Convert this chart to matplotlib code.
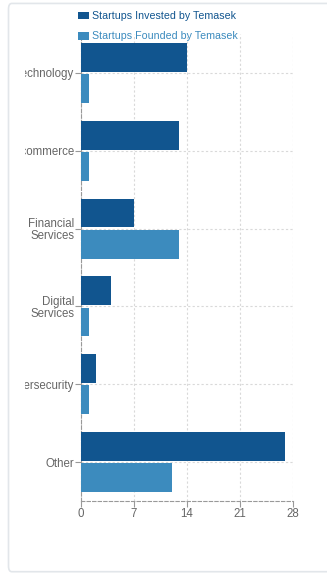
import numpy as np
import matplotlib.pyplot as plt
from matplotlib.patches import FancyBboxPatch
from matplotlib.transforms import Bbox, TransformedBbox

plt.rcParams['font.family'] = ['Liberation Sans', 'DejaVu Sans']

categories = ["Technology", "E-commerce", "Financial\nServices", "Digital\nServices", "Cybersecurity", "Other"]
invested = [14, 13, 7, 4, 2, 27]
founded = [1, 1, 13, 1, 1, 12]
x_ticks = [0, 7, 14, 21, 28]

c_inv = "#11558f"
c_fnd = "#3c8bbe"

fig = plt.figure(figsize=(3.27, 5.74), dpi=100)

# card background
card = FancyBboxPatch((0.026, 0.004), 1.0, 0.99, boxstyle="round,pad=0,rounding_size=0.01",
                      transform=fig.transFigure, facecolor="white", edgecolor="#e2e6ea", lw=1.2,
                      zorder=-10)
fig.patches.append(card)

ax = fig.add_axes([0.2477, 0.127, 0.648, 0.814])
ax.set_facecolor("none")

y = np.arange(len(categories))
ax.barh(y - 0.2, invested, height=0.37, color=c_inv, label="Startups Invested by Temasek", zorder=3)
ax.barh(y + 0.2, founded, height=0.37, color=c_fnd, label="Startups Founded by Temasek", zorder=3)

ax.set_ylim(len(categories) - 0.5, -0.5)
ax.set_xlim(0, 28)
ax.set_yticks(y)
ax.set_yticklabels(categories, fontsize=8.3, color="#666666", linespacing=1.0)
ax.set_xticks(x_ticks)
ax.set_xticklabels([str(t) for t in x_ticks], fontsize=8.3, color="#666666")
ax.tick_params(axis="both", color="#999999", length=4, width=0.8, pad=1)

# labels are cut off at the left edge of the chart area
clip = TransformedBbox(Bbox([[25 / 327, 0], [1, 1]]), fig.transFigure)
for lbl in ax.get_yticklabels():
    lbl.set_clip_on(True)
    lbl.set_clip_box(clip)

ax.grid(True, color="#d9d9d9", linestyle=(0, (2, 2)), linewidth=0.8, zorder=0)
for s in ["top", "right"]:
    ax.spines[s].set_visible(False)
for s in ["left", "bottom"]:
    ax.spines[s].set_color("#999999")
    ax.spines[s].set_linestyle((0, (3, 2)))
    ax.spines[s].set_linewidth(0.8)

leg = fig.legend(loc="upper left", bbox_to_anchor=(0.225, 0.988), frameon=False, fontsize=7.7,
                 handlelength=1.05, handleheight=0.75, handletextpad=0.3, labelspacing=0.95,
                 borderaxespad=0)
for txt, c in zip(leg.get_texts(), [c_inv, c_fnd]):
    txt.set_color(c)

fig.savefig("out.png", dpi=100)
